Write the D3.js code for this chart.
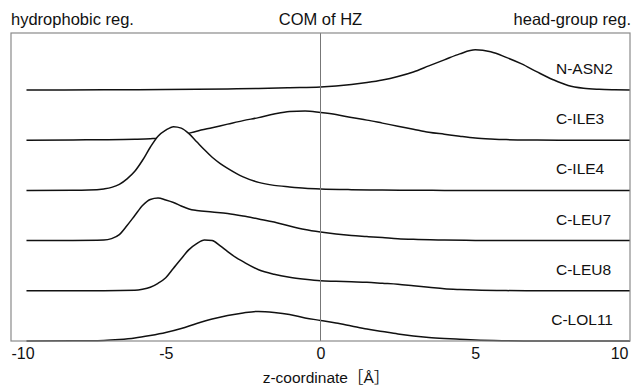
<!DOCTYPE html>
<html>
<head>
<meta charset="utf-8">
<script src="https://cdn.jsdelivr.net/npm/d3@7"></script>
<style>
  body { margin: 0; background: #fff; }
  text { font-family: "Liberation Sans", Arial, "Noto Sans CJK JP", sans-serif; fill: #111; }
</style>
</head>
<body>
<div id="chart"></div>
<script>
const width = 632;
const height = 386;

// names, top to bottom
const names = ["N-ASN2", "C-ILE3", "C-ILE4", "C-LEU7", "C-LEU8", "C-LOL11"];

// [z (Å), density]
const asn2 = [[-9.5,0],[-7,0.005],[-5,0.01],[-3,0.02],[-2,0.03],[-1,0.045],[0,0.06],[0.5,0.08],[1,0.11],[1.5,0.15],[2,0.2],[2.5,0.27],[3,0.36],[3.5,0.48],[4,0.6],[4.5,0.72],[5,0.8],[5.5,0.76],[6,0.65],[6.5,0.52],[7,0.36],[7.5,0.21],[8,0.09],[8.5,0.035],[9,0.014],[9.5,0.005],[10,0]];
const ile3 = [[-9.5,0],[-8,0.005],[-7,0.01],[-6,0.02],[-5.5,0.03],[-5,0.05],[-4.5,0.1],[-4,0.18],[-3.5,0.25],[-3,0.32],[-2.5,0.39],[-2,0.45],[-1.5,0.52],[-1,0.57],[-0.5,0.58],[0,0.55],[0.5,0.51],[1,0.45],[1.5,0.4],[2,0.34],[2.5,0.28],[3,0.22],[3.5,0.16],[4,0.12],[4.5,0.08],[5,0.045],[5.5,0.025],[6,0.012],[7,0.004],[8,0],[10,0]];
const ile4 = [[-9.5,0],[-8,0.002],[-7.5,0.006],[-7,0.03],[-6.75,0.06],[-6.5,0.12],[-6.25,0.23],[-6,0.38],[-5.75,0.6],[-5.5,0.86],[-5.25,1.08],[-5,1.2],[-4.75,1.27],[-4.5,1.24],[-4.25,1.13],[-4,0.97],[-3.75,0.81],[-3.5,0.66],[-3.25,0.54],[-3,0.44],[-2.5,0.27],[-2,0.16],[-1.5,0.1],[-1,0.07],[-0.5,0.045],[0,0.03],[1,0.015],[2,0.008],[3,0.003],[4,0],[10,0]];
const leu7 = [[-9.5,0],[-8,0.002],[-7,0.01],[-6.75,0.04],[-6.5,0.12],[-6.25,0.3],[-6,0.5],[-5.75,0.7],[-5.5,0.82],[-5.25,0.85],[-5,0.81],[-4.75,0.76],[-4.5,0.69],[-4.25,0.63],[-4,0.6],[-3.5,0.57],[-3,0.54],[-2.5,0.49],[-2,0.43],[-1.5,0.37],[-1,0.29],[-0.5,0.22],[0,0.17],[0.5,0.13],[1,0.1],[1.5,0.08],[2,0.06],[2.5,0.038],[3,0.025],[4,0.012],[5,0.004],[6,0],[10,0]];
const leu8 = [[-9.5,0],[-7,0.002],[-6,0.01],[-5.75,0.03],[-5.5,0.07],[-5.25,0.15],[-5,0.26],[-4.75,0.45],[-4.5,0.64],[-4.25,0.82],[-4,0.94],[-3.75,1.01],[-3.5,1.0],[-3.25,0.9],[-3,0.78],[-2.75,0.67],[-2.5,0.58],[-2,0.42],[-1.5,0.33],[-1,0.27],[-0.5,0.23],[0,0.2],[0.5,0.19],[1,0.18],[1.5,0.17],[2,0.15],[2.5,0.13],[3,0.1],[3.5,0.07],[4,0.04],[4.5,0.025],[5,0.015],[6,0.004],[7,0],[10,0]];
const lol11 = [[-9.5,0],[-8,0.003],[-7,0.012],[-6.5,0.03],[-6,0.06],[-5.5,0.11],[-5,0.17],[-4.5,0.25],[-4,0.35],[-3.5,0.44],[-3,0.51],[-2.5,0.56],[-2,0.59],[-1.5,0.57],[-1,0.53],[-0.5,0.46],[0,0.41],[0.5,0.36],[1,0.3],[1.5,0.24],[2,0.19],[2.5,0.14],[3,0.1],[3.5,0.07],[4,0.05],[4.5,0.035],[5,0.02],[6,0.006],[7,0],[10,0]];

const series = [asn2, ile3, ile4, leu7, leu8, lol11];
const xTicks = [-10, -5, 0, 5, 10];
const topLabels = ["hydrophobic reg.", "COM of HZ", "head-group reg."];
const xTitle = "z-coordinate［Å］";

const plotLeft = 11, plotRight = 630, plotTop = 33, plotBottom = 341;

const svg = d3.select("#chart")
    .append("svg")
    .attr("width", width)
    .attr("height", height);

const x = d3.scaleLinear().domain([-10, 10]).range([plotLeft, plotRight]);
const y = d3.scaleLinear().domain([0, (plotBottom - plotTop) / 50.2]).range([plotBottom, plotTop]);

// stack: each band sits one unit above the next
const offset = i => names.length - 1 - i;

const area = d3.area()
    .x(d => x(d[0]))
    .y0(d => y(d.off))
    .y1(d => y(d.off + d[1]))
    .curve(d3.curveMonotoneX);

const line = d3.line()
    .x(d => x(d[0]))
    .y(d => y(d.off + d[1]))
    .curve(d3.curveMonotoneX);

// draw top to bottom so lower bands hide the ones above them
series.forEach(function (s, i) {
    const pts = s.map(d => { const p = [d[0], d[1]]; p.off = offset(i); return p; });
    svg.append("path")
        .attr("d", area(pts))
        .style("fill", "white");
    svg.append("path")
        .attr("d", line(pts))
        .style("fill", "none")
        .style("stroke", "#111")
        .style("stroke-width", 1.5);
});

// COM line
svg.append("line")
    .attr("x1", x(0)).attr("x2", x(0))
    .attr("y1", plotTop).attr("y2", plotBottom)
    .style("stroke", "#777")
    .style("stroke-width", 1);

// frame
svg.append("rect")
    .attr("x", plotLeft).attr("y", plotTop)
    .attr("width", plotRight - plotLeft).attr("height", plotBottom - plotTop)
    .style("fill", "none")
    .style("stroke", "#8a8a8a")
    .style("stroke-width", 1.2);

// band names
svg.selectAll(".name")
    .data(names)
    .enter()
    .append("text")
    .attr("class", "name")
    .attr("x", (d, i) => i === names.length - 1 ? 613 : 556)
    .attr("text-anchor", (d, i) => i === names.length - 1 ? "end" : "start")
    .attr("y", (d, i) => y(offset(i)) - 16)
    .style("font-size", "15.5px")
    .text(d => d);

// x axis
const axis = svg.append("g")
    .attr("transform", `translate(0,${plotBottom})`)
    .call(d3.axisBottom(x).tickValues(xTicks).tickSize(0).tickPadding(7).tickFormat(d => String(d)));
axis.select(".domain").remove();
axis.selectAll("text")
    .style("font-size", "16px")
    .style("font-family", "\"Liberation Sans\", Arial, sans-serif")
    .attr("fill", "#111")
    .attr("text-anchor", d => d === -10 ? "start" : d === 10 ? "end" : "middle")
    .attr("dx", d => d === 10 ? -2 : 0);

svg.append("text")
    .attr("x", 326)
    .attr("y", 383)
    .attr("text-anchor", "middle")
    .style("font-size", "15.5px")
    .text(xTitle);

// region labels above the frame
svg.selectAll(".region")
    .data(topLabels)
    .enter()
    .append("text")
    .attr("class", "region")
    .attr("x", (d, i) => [plotLeft, x(0), width - 1][i])
    .attr("y", 25)
    .attr("text-anchor", (d, i) => ["start", "middle", "end"][i])
    .style("font-size", "16.5px")
    .text(d => d);
</script>
</body>
</html>
